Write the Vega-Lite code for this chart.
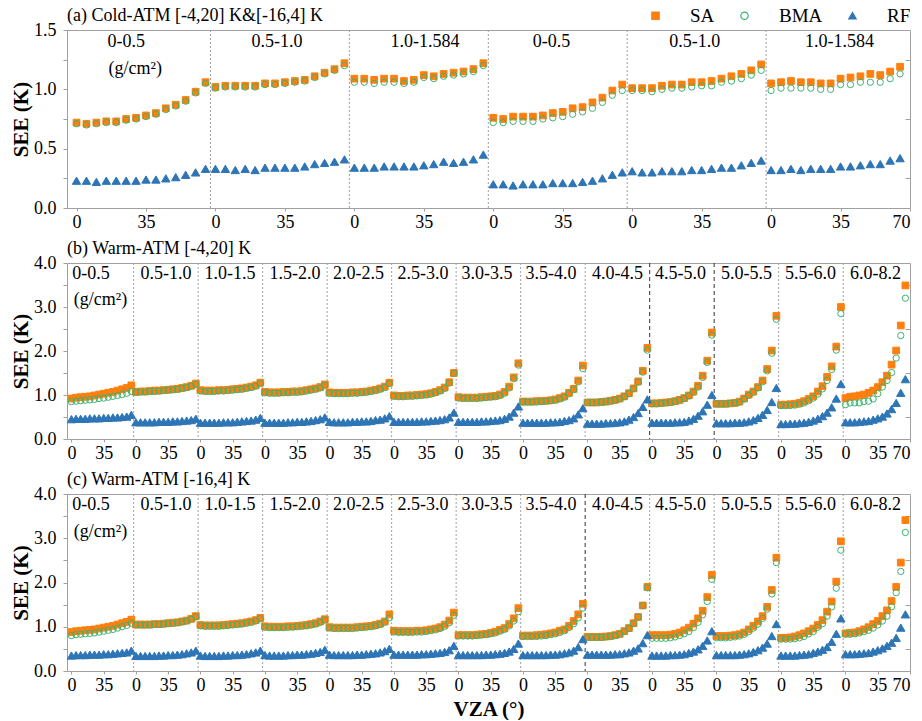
{
"$schema":"https://vega.github.io/schema/vega-lite/v6.json",
"background":"white",
"padding":{"left":10,"top":6,"right":8,"bottom":0},
"spacing":55,
"bounds":"flush",
"config":{
"font":"Liberation Serif",
"view":{"stroke":"#a0a0a0","strokeWidth":1},
"axis":{"labelFont":"Liberation Serif","labelFontSize":18,"labelColor":"#000","titleFont":"Liberation Serif","titleFontSize":21,"titleFontWeight":"bold","titleColor":"#000","domainColor":"#a0a0a0","tickColor":"#a0a0a0","grid":false},
"title":{"font":"Liberation Serif","fontSize":18,"fontWeight":"normal","anchor":"start","color":"#000"},
"legend":{"orient":"none","legendX":579,"legendY":-24,"direction":"horizontal","gridAlign":"each","symbolSize":55,"symbolStrokeWidth":1.2,"labelFont":"Liberation Serif","labelFontSize":19,"labelColor":"#000","labelOffset":25,"columnPadding":20,"padding":0}
},
"datasets":{
"divA":[{"x":67.5},{"x":137.5},{"x":207.5},{"x":277.5},{"x":347.5}],
"divB":[{"x":67.5},{"x":137.5},{"x":207.5},{"x":277.5},{"x":347.5},{"x":417.5},{"x":487.5},{"x":557.5},{"x":767.5},{"x":837.5}],
"divBd":[{"x":627.5},{"x":697.5}],
"divC":[{"x":67.5},{"x":137.5},{"x":207.5},{"x":277.5},{"x":347.5},{"x":417.5},{"x":487.5},{"x":627.5},{"x":697.5},{"x":767.5},{"x":837.5}],
"divCd":[{"x":557.5}],
"labA":[{"x":25,"y":1.4,"t":"0-0.5"},{"x":29.6,"y":1.175,"t":"(g/cm²)"},{"x":101,"y":1.4,"t":"0.5-1.0"},{"x":175.6,"y":1.4,"t":"1.0-1.584"},{"x":239.3,"y":1.4,"t":"0-0.5"},{"x":311.5,"y":1.4,"t":"0.5-1.0"},{"x":384.5,"y":1.4,"t":"1.0-1.584"}],
"labB":[{"x":21.3,"y":3.75,"t":"0-0.5"},{"x":31.6,"y":3.15,"t":"(g/cm²)"},{"x":102.7,"y":3.75,"t":"0.5-1.0"},{"x":172,"y":3.75,"t":"1.0-1.5"},{"x":242.6,"y":3.75,"t":"1.5-2.0"},{"x":311.6,"y":3.75,"t":"2.0-2.5"},{"x":381.5,"y":3.75,"t":"2.5-3.0"},{"x":451,"y":3.75,"t":"3.0-3.5"},{"x":520.5,"y":3.75,"t":"3.5-4.0"},{"x":592.6,"y":3.75,"t":"4.0-4.5"},{"x":661,"y":3.75,"t":"4.5-5.0"},{"x":732.6,"y":3.75,"t":"5.0-5.5"},{"x":802,"y":3.75,"t":"5.5-6.0"},{"x":872.6,"y":3.75,"t":"6.0-8.2"}],
"a":[
{"s":0,"v":0,"SA":0.72,"BMA":0.71,"RF":0.23},{"s":0,"v":5,"SA":0.71,"BMA":0.70,"RF":0.23},{"s":0,"v":10,"SA":0.72,"BMA":0.71,"RF":0.22},{"s":0,"v":15,"SA":0.73,"BMA":0.72,"RF":0.23},{"s":0,"v":20,"SA":0.73,"BMA":0.72,"RF":0.23},{"s":0,"v":25,"SA":0.75,"BMA":0.74,"RF":0.23},{"s":0,"v":30,"SA":0.76,"BMA":0.75,"RF":0.23},{"s":0,"v":35,"SA":0.78,"BMA":0.77,"RF":0.24},{"s":0,"v":40,"SA":0.80,"BMA":0.79,"RF":0.24},{"s":0,"v":45,"SA":0.84,"BMA":0.83,"RF":0.25},{"s":0,"v":50,"SA":0.87,"BMA":0.86,"RF":0.26},{"s":0,"v":55,"SA":0.91,"BMA":0.90,"RF":0.28},{"s":0,"v":60,"SA":0.98,"BMA":0.97,"RF":0.30},{"s":0,"v":65,"SA":1.06,"BMA":1.05,"RF":0.33},
{"s":1,"v":0,"SA":1.02,"BMA":1.01,"RF":0.33},{"s":1,"v":5,"SA":1.03,"BMA":1.02,"RF":0.33},{"s":1,"v":10,"SA":1.03,"BMA":1.02,"RF":0.32},{"s":1,"v":15,"SA":1.03,"BMA":1.02,"RF":0.33},{"s":1,"v":20,"SA":1.03,"BMA":1.02,"RF":0.32},{"s":1,"v":25,"SA":1.05,"BMA":1.04,"RF":0.34},{"s":1,"v":30,"SA":1.05,"BMA":1.04,"RF":0.34},{"s":1,"v":35,"SA":1.06,"BMA":1.05,"RF":0.34},{"s":1,"v":40,"SA":1.07,"BMA":1.06,"RF":0.34},{"s":1,"v":45,"SA":1.08,"BMA":1.07,"RF":0.35},{"s":1,"v":50,"SA":1.11,"BMA":1.10,"RF":0.37},{"s":1,"v":55,"SA":1.14,"BMA":1.13,"RF":0.38},{"s":1,"v":60,"SA":1.17,"BMA":1.16,"RF":0.39},{"s":1,"v":65,"SA":1.22,"BMA":1.20,"RF":0.41},
{"s":2,"v":0,"SA":1.09,"BMA":1.06,"RF":0.34},{"s":2,"v":5,"SA":1.09,"BMA":1.06,"RF":0.34},{"s":2,"v":10,"SA":1.08,"BMA":1.05,"RF":0.34},{"s":2,"v":15,"SA":1.09,"BMA":1.06,"RF":0.35},{"s":2,"v":20,"SA":1.09,"BMA":1.06,"RF":0.35},{"s":2,"v":25,"SA":1.07,"BMA":1.05,"RF":0.35},{"s":2,"v":30,"SA":1.08,"BMA":1.06,"RF":0.35},{"s":2,"v":35,"SA":1.12,"BMA":1.10,"RF":0.36},{"s":2,"v":40,"SA":1.11,"BMA":1.09,"RF":0.37},{"s":2,"v":45,"SA":1.13,"BMA":1.11,"RF":0.39},{"s":2,"v":50,"SA":1.14,"BMA":1.12,"RF":0.38},{"s":2,"v":55,"SA":1.15,"BMA":1.13,"RF":0.39},{"s":2,"v":60,"SA":1.17,"BMA":1.15,"RF":0.41},{"s":2,"v":65,"SA":1.22,"BMA":1.20,"RF":0.45},
{"s":3,"v":0,"SA":0.76,"BMA":0.72,"RF":0.20},{"s":3,"v":5,"SA":0.75,"BMA":0.72,"RF":0.20},{"s":3,"v":10,"SA":0.77,"BMA":0.73,"RF":0.19},{"s":3,"v":15,"SA":0.77,"BMA":0.73,"RF":0.20},{"s":3,"v":20,"SA":0.77,"BMA":0.73,"RF":0.20},{"s":3,"v":25,"SA":0.78,"BMA":0.75,"RF":0.20},{"s":3,"v":30,"SA":0.80,"BMA":0.76,"RF":0.21},{"s":3,"v":35,"SA":0.81,"BMA":0.77,"RF":0.21},{"s":3,"v":40,"SA":0.84,"BMA":0.79,"RF":0.21},{"s":3,"v":45,"SA":0.85,"BMA":0.81,"RF":0.22},{"s":3,"v":50,"SA":0.89,"BMA":0.84,"RF":0.23},{"s":3,"v":55,"SA":0.93,"BMA":0.89,"RF":0.25},{"s":3,"v":60,"SA":0.99,"BMA":0.95,"RF":0.28},{"s":3,"v":65,"SA":1.04,"BMA":0.99,"RF":0.30},
{"s":4,"v":0,"SA":1.01,"BMA":0.99,"RF":0.31},{"s":4,"v":5,"SA":1.01,"BMA":0.99,"RF":0.30},{"s":4,"v":10,"SA":1.01,"BMA":0.98,"RF":0.30},{"s":4,"v":15,"SA":1.03,"BMA":1.00,"RF":0.31},{"s":4,"v":20,"SA":1.04,"BMA":1.01,"RF":0.31},{"s":4,"v":25,"SA":1.04,"BMA":1.01,"RF":0.31},{"s":4,"v":30,"SA":1.06,"BMA":1.02,"RF":0.32},{"s":4,"v":35,"SA":1.06,"BMA":1.03,"RF":0.32},{"s":4,"v":40,"SA":1.07,"BMA":1.03,"RF":0.33},{"s":4,"v":45,"SA":1.09,"BMA":1.06,"RF":0.34},{"s":4,"v":50,"SA":1.11,"BMA":1.07,"RF":0.34},{"s":4,"v":55,"SA":1.13,"BMA":1.09,"RF":0.36},{"s":4,"v":60,"SA":1.16,"BMA":1.12,"RF":0.38},{"s":4,"v":65,"SA":1.21,"BMA":1.16,"RF":0.40},
{"s":5,"v":0,"SA":1.05,"BMA":0.99,"RF":0.32},{"s":5,"v":5,"SA":1.06,"BMA":1.01,"RF":0.32},{"s":5,"v":10,"SA":1.07,"BMA":1.01,"RF":0.33},{"s":5,"v":15,"SA":1.06,"BMA":1.01,"RF":0.32},{"s":5,"v":20,"SA":1.06,"BMA":1.01,"RF":0.33},{"s":5,"v":25,"SA":1.05,"BMA":1.00,"RF":0.33},{"s":5,"v":30,"SA":1.05,"BMA":1.00,"RF":0.33},{"s":5,"v":35,"SA":1.09,"BMA":1.04,"RF":0.35},{"s":5,"v":40,"SA":1.10,"BMA":1.04,"RF":0.35},{"s":5,"v":45,"SA":1.11,"BMA":1.06,"RF":0.36},{"s":5,"v":50,"SA":1.13,"BMA":1.06,"RF":0.37},{"s":5,"v":55,"SA":1.12,"BMA":1.06,"RF":0.37},{"s":5,"v":60,"SA":1.15,"BMA":1.09,"RF":0.40},{"s":5,"v":65,"SA":1.19,"BMA":1.13,"RF":0.42}
],
"b":[
{"s":0,"v":0,"SA":0.92,"BMA":0.85,"RF":0.45},{"s":0,"v":5,"SA":0.94,"BMA":0.86,"RF":0.46},{"s":0,"v":10,"SA":0.95,"BMA":0.87,"RF":0.46},{"s":0,"v":15,"SA":0.96,"BMA":0.88,"RF":0.46},{"s":0,"v":20,"SA":0.97,"BMA":0.89,"RF":0.47},{"s":0,"v":25,"SA":0.99,"BMA":0.90,"RF":0.47},{"s":0,"v":30,"SA":1.01,"BMA":0.92,"RF":0.47},{"s":0,"v":35,"SA":1.03,"BMA":0.93,"RF":0.48},{"s":0,"v":40,"SA":1.05,"BMA":0.95,"RF":0.48},{"s":0,"v":45,"SA":1.07,"BMA":0.97,"RF":0.49},{"s":0,"v":50,"SA":1.10,"BMA":0.99,"RF":0.49},{"s":0,"v":55,"SA":1.13,"BMA":1.01,"RF":0.50},{"s":0,"v":60,"SA":1.16,"BMA":1.04,"RF":0.51},{"s":0,"v":65,"SA":1.22,"BMA":1.08,"RF":0.55},
{"s":1,"v":0,"SA":1.07,"BMA":1.06,"RF":0.38},{"s":1,"v":5,"SA":1.08,"BMA":1.07,"RF":0.38},{"s":1,"v":10,"SA":1.08,"BMA":1.07,"RF":0.38},{"s":1,"v":15,"SA":1.09,"BMA":1.08,"RF":0.38},{"s":1,"v":20,"SA":1.10,"BMA":1.08,"RF":0.38},{"s":1,"v":25,"SA":1.10,"BMA":1.09,"RF":0.39},{"s":1,"v":30,"SA":1.11,"BMA":1.10,"RF":0.39},{"s":1,"v":35,"SA":1.12,"BMA":1.11,"RF":0.39},{"s":1,"v":40,"SA":1.13,"BMA":1.12,"RF":0.40},{"s":1,"v":45,"SA":1.14,"BMA":1.13,"RF":0.40},{"s":1,"v":50,"SA":1.16,"BMA":1.15,"RF":0.41},{"s":1,"v":55,"SA":1.18,"BMA":1.17,"RF":0.42},{"s":1,"v":60,"SA":1.21,"BMA":1.20,"RF":0.43},{"s":1,"v":65,"SA":1.26,"BMA":1.24,"RF":0.46},
{"s":2,"v":0,"SA":1.11,"BMA":1.09,"RF":0.37},{"s":2,"v":5,"SA":1.10,"BMA":1.08,"RF":0.37},{"s":2,"v":10,"SA":1.10,"BMA":1.08,"RF":0.37},{"s":2,"v":15,"SA":1.10,"BMA":1.08,"RF":0.37},{"s":2,"v":20,"SA":1.11,"BMA":1.09,"RF":0.37},{"s":2,"v":25,"SA":1.11,"BMA":1.09,"RF":0.38},{"s":2,"v":30,"SA":1.12,"BMA":1.10,"RF":0.38},{"s":2,"v":35,"SA":1.13,"BMA":1.11,"RF":0.38},{"s":2,"v":40,"SA":1.14,"BMA":1.12,"RF":0.39},{"s":2,"v":45,"SA":1.15,"BMA":1.13,"RF":0.40},{"s":2,"v":50,"SA":1.17,"BMA":1.15,"RF":0.41},{"s":2,"v":55,"SA":1.19,"BMA":1.17,"RF":0.42},{"s":2,"v":60,"SA":1.22,"BMA":1.20,"RF":0.44},{"s":2,"v":65,"SA":1.28,"BMA":1.26,"RF":0.48},
{"s":3,"v":0,"SA":1.07,"BMA":1.05,"RF":0.37},{"s":3,"v":5,"SA":1.06,"BMA":1.04,"RF":0.37},{"s":3,"v":10,"SA":1.06,"BMA":1.04,"RF":0.37},{"s":3,"v":15,"SA":1.06,"BMA":1.04,"RF":0.37},{"s":3,"v":20,"SA":1.07,"BMA":1.05,"RF":0.37},{"s":3,"v":25,"SA":1.07,"BMA":1.05,"RF":0.38},{"s":3,"v":30,"SA":1.08,"BMA":1.06,"RF":0.38},{"s":3,"v":35,"SA":1.08,"BMA":1.06,"RF":0.39},{"s":3,"v":40,"SA":1.09,"BMA":1.07,"RF":0.39},{"s":3,"v":45,"SA":1.11,"BMA":1.09,"RF":0.40},{"s":3,"v":50,"SA":1.13,"BMA":1.11,"RF":0.41},{"s":3,"v":55,"SA":1.15,"BMA":1.13,"RF":0.43},{"s":3,"v":60,"SA":1.18,"BMA":1.16,"RF":0.45},{"s":3,"v":65,"SA":1.24,"BMA":1.22,"RF":0.49},
{"s":4,"v":0,"SA":1.06,"BMA":1.04,"RF":0.39},{"s":4,"v":5,"SA":1.05,"BMA":1.03,"RF":0.38},{"s":4,"v":10,"SA":1.05,"BMA":1.03,"RF":0.38},{"s":4,"v":15,"SA":1.05,"BMA":1.03,"RF":0.38},{"s":4,"v":20,"SA":1.05,"BMA":1.03,"RF":0.38},{"s":4,"v":25,"SA":1.06,"BMA":1.04,"RF":0.39},{"s":4,"v":30,"SA":1.06,"BMA":1.04,"RF":0.39},{"s":4,"v":35,"SA":1.07,"BMA":1.05,"RF":0.40},{"s":4,"v":40,"SA":1.08,"BMA":1.06,"RF":0.40},{"s":4,"v":45,"SA":1.10,"BMA":1.08,"RF":0.41},{"s":4,"v":50,"SA":1.12,"BMA":1.10,"RF":0.43},{"s":4,"v":55,"SA":1.15,"BMA":1.13,"RF":0.44},{"s":4,"v":60,"SA":1.19,"BMA":1.17,"RF":0.47},{"s":4,"v":65,"SA":1.28,"BMA":1.26,"RF":0.52},
{"s":5,"v":0,"SA":0.99,"BMA":0.97,"RF":0.39},{"s":5,"v":5,"SA":0.98,"BMA":0.96,"RF":0.39},{"s":5,"v":10,"SA":0.98,"BMA":0.96,"RF":0.39},{"s":5,"v":15,"SA":0.99,"BMA":0.97,"RF":0.39},{"s":5,"v":20,"SA":0.99,"BMA":0.97,"RF":0.39},{"s":5,"v":25,"SA":1.00,"BMA":0.98,"RF":0.39},{"s":5,"v":30,"SA":1.01,"BMA":0.99,"RF":0.40},{"s":5,"v":35,"SA":1.02,"BMA":1.00,"RF":0.40},{"s":5,"v":40,"SA":1.04,"BMA":1.02,"RF":0.41},{"s":5,"v":45,"SA":1.07,"BMA":1.05,"RF":0.42},{"s":5,"v":50,"SA":1.11,"BMA":1.09,"RF":0.43},{"s":5,"v":55,"SA":1.17,"BMA":1.15,"RF":0.45},{"s":5,"v":60,"SA":1.29,"BMA":1.27,"RF":0.49},{"s":5,"v":65,"SA":1.50,"BMA":1.49,"RF":0.60},
{"s":6,"v":0,"SA":0.95,"BMA":0.93,"RF":0.39},{"s":6,"v":5,"SA":0.94,"BMA":0.92,"RF":0.39},{"s":6,"v":10,"SA":0.94,"BMA":0.92,"RF":0.39},{"s":6,"v":15,"SA":0.94,"BMA":0.92,"RF":0.39},{"s":6,"v":20,"SA":0.94,"BMA":0.92,"RF":0.39},{"s":6,"v":25,"SA":0.95,"BMA":0.93,"RF":0.40},{"s":6,"v":30,"SA":0.96,"BMA":0.94,"RF":0.40},{"s":6,"v":35,"SA":0.97,"BMA":0.95,"RF":0.41},{"s":6,"v":40,"SA":0.98,"BMA":0.96,"RF":0.42},{"s":6,"v":45,"SA":1.01,"BMA":0.99,"RF":0.43},{"s":6,"v":50,"SA":1.07,"BMA":1.04,"RF":0.46},{"s":6,"v":55,"SA":1.19,"BMA":1.16,"RF":0.51},{"s":6,"v":60,"SA":1.40,"BMA":1.37,"RF":0.60},{"s":6,"v":65,"SA":1.72,"BMA":1.68,"RF":0.74},
{"s":7,"v":0,"SA":0.85,"BMA":0.84,"RF":0.37},{"s":7,"v":5,"SA":0.85,"BMA":0.84,"RF":0.37},{"s":7,"v":10,"SA":0.85,"BMA":0.84,"RF":0.37},{"s":7,"v":15,"SA":0.86,"BMA":0.84,"RF":0.37},{"s":7,"v":20,"SA":0.86,"BMA":0.85,"RF":0.37},{"s":7,"v":25,"SA":0.87,"BMA":0.86,"RF":0.37},{"s":7,"v":30,"SA":0.88,"BMA":0.87,"RF":0.38},{"s":7,"v":35,"SA":0.90,"BMA":0.88,"RF":0.38},{"s":7,"v":40,"SA":0.93,"BMA":0.91,"RF":0.39},{"s":7,"v":45,"SA":0.97,"BMA":0.95,"RF":0.41},{"s":7,"v":50,"SA":1.05,"BMA":1.03,"RF":0.43},{"s":7,"v":55,"SA":1.14,"BMA":1.12,"RF":0.47},{"s":7,"v":60,"SA":1.33,"BMA":1.30,"RF":0.56},{"s":7,"v":65,"SA":1.67,"BMA":1.60,"RF":0.70},
{"s":8,"v":0,"SA":0.83,"BMA":0.83,"RF":0.35},{"s":8,"v":5,"SA":0.83,"BMA":0.83,"RF":0.35},{"s":8,"v":10,"SA":0.83,"BMA":0.83,"RF":0.35},{"s":8,"v":15,"SA":0.84,"BMA":0.84,"RF":0.35},{"s":8,"v":20,"SA":0.85,"BMA":0.85,"RF":0.36},{"s":8,"v":25,"SA":0.87,"BMA":0.86,"RF":0.36},{"s":8,"v":30,"SA":0.89,"BMA":0.88,"RF":0.37},{"s":8,"v":35,"SA":0.92,"BMA":0.91,"RF":0.38},{"s":8,"v":40,"SA":0.97,"BMA":0.96,"RF":0.40},{"s":8,"v":45,"SA":1.04,"BMA":1.03,"RF":0.44},{"s":8,"v":50,"SA":1.15,"BMA":1.14,"RF":0.50},{"s":8,"v":55,"SA":1.31,"BMA":1.29,"RF":0.59},{"s":8,"v":60,"SA":1.55,"BMA":1.52,"RF":0.73},{"s":8,"v":65,"SA":2.07,"BMA":2.02,"RF":0.90},
{"s":9,"v":0,"SA":0.81,"BMA":0.80,"RF":0.37},{"s":9,"v":5,"SA":0.81,"BMA":0.80,"RF":0.37},{"s":9,"v":10,"SA":0.82,"BMA":0.81,"RF":0.37},{"s":9,"v":15,"SA":0.83,"BMA":0.82,"RF":0.37},{"s":9,"v":20,"SA":0.84,"BMA":0.83,"RF":0.37},{"s":9,"v":25,"SA":0.86,"BMA":0.85,"RF":0.38},{"s":9,"v":30,"SA":0.89,"BMA":0.88,"RF":0.38},{"s":9,"v":35,"SA":0.93,"BMA":0.92,"RF":0.39},{"s":9,"v":40,"SA":0.99,"BMA":0.98,"RF":0.42},{"s":9,"v":45,"SA":1.08,"BMA":1.06,"RF":0.46},{"s":9,"v":50,"SA":1.21,"BMA":1.18,"RF":0.53},{"s":9,"v":55,"SA":1.44,"BMA":1.40,"RF":0.63},{"s":9,"v":60,"SA":1.78,"BMA":1.74,"RF":0.78},{"s":9,"v":65,"SA":2.42,"BMA":2.36,"RF":1.00},
{"s":10,"v":0,"SA":0.80,"BMA":0.80,"RF":0.36},{"s":10,"v":5,"SA":0.80,"BMA":0.80,"RF":0.36},{"s":10,"v":10,"SA":0.80,"BMA":0.80,"RF":0.36},{"s":10,"v":15,"SA":0.81,"BMA":0.81,"RF":0.36},{"s":10,"v":20,"SA":0.82,"BMA":0.82,"RF":0.37},{"s":10,"v":25,"SA":0.85,"BMA":0.84,"RF":0.37},{"s":10,"v":30,"SA":0.92,"BMA":0.91,"RF":0.38},{"s":10,"v":35,"SA":1.01,"BMA":0.99,"RF":0.40},{"s":10,"v":40,"SA":1.08,"BMA":1.06,"RF":0.43},{"s":10,"v":45,"SA":1.18,"BMA":1.16,"RF":0.48},{"s":10,"v":50,"SA":1.33,"BMA":1.30,"RF":0.55},{"s":10,"v":55,"SA":1.59,"BMA":1.55,"RF":0.66},{"s":10,"v":60,"SA":2.01,"BMA":1.95,"RF":0.84},{"s":10,"v":65,"SA":2.80,"BMA":2.72,"RF":1.16},
{"s":11,"v":0,"SA":0.78,"BMA":0.76,"RF":0.34},{"s":11,"v":5,"SA":0.78,"BMA":0.76,"RF":0.34},{"s":11,"v":10,"SA":0.79,"BMA":0.76,"RF":0.35},{"s":11,"v":15,"SA":0.80,"BMA":0.77,"RF":0.35},{"s":11,"v":20,"SA":0.82,"BMA":0.79,"RF":0.36},{"s":11,"v":25,"SA":0.86,"BMA":0.82,"RF":0.37},{"s":11,"v":30,"SA":0.91,"BMA":0.87,"RF":0.39},{"s":11,"v":35,"SA":0.97,"BMA":0.93,"RF":0.42},{"s":11,"v":40,"SA":1.08,"BMA":1.02,"RF":0.46},{"s":11,"v":45,"SA":1.20,"BMA":1.14,"RF":0.52},{"s":11,"v":50,"SA":1.41,"BMA":1.33,"RF":0.60},{"s":11,"v":55,"SA":1.65,"BMA":1.58,"RF":0.72},{"s":11,"v":60,"SA":2.10,"BMA":2.02,"RF":0.92},{"s":11,"v":65,"SA":3.00,"BMA":2.85,"RF":1.25},
{"s":12,"v":0,"SA":0.93,"BMA":0.78,"RF":0.38},{"s":12,"v":5,"SA":0.96,"BMA":0.82,"RF":0.38},{"s":12,"v":10,"SA":0.97,"BMA":0.82,"RF":0.38},{"s":12,"v":15,"SA":0.99,"BMA":0.82,"RF":0.39},{"s":12,"v":20,"SA":1.01,"BMA":0.85,"RF":0.40},{"s":12,"v":25,"SA":1.05,"BMA":0.86,"RF":0.41},{"s":12,"v":30,"SA":1.10,"BMA":0.91,"RF":0.44},{"s":12,"v":35,"SA":1.18,"BMA":1.03,"RF":0.47},{"s":12,"v":40,"SA":1.29,"BMA":1.18,"RF":0.51},{"s":12,"v":45,"SA":1.44,"BMA":1.33,"RF":0.58},{"s":12,"v":50,"SA":1.69,"BMA":1.51,"RF":0.68},{"s":12,"v":55,"SA":2.01,"BMA":1.84,"RF":0.82},{"s":12,"v":60,"SA":2.58,"BMA":2.35,"RF":1.05},{"s":12,"v":65,"SA":3.49,"BMA":3.20,"RF":1.36}
],
"c":[
{"s":0,"v":0,"SA":0.88,"BMA":0.80,"RF":0.35},{"s":0,"v":5,"SA":0.90,"BMA":0.82,"RF":0.36},{"s":0,"v":10,"SA":0.91,"BMA":0.83,"RF":0.36},{"s":0,"v":15,"SA":0.92,"BMA":0.84,"RF":0.36},{"s":0,"v":20,"SA":0.93,"BMA":0.85,"RF":0.37},{"s":0,"v":25,"SA":0.94,"BMA":0.86,"RF":0.37},{"s":0,"v":30,"SA":0.96,"BMA":0.88,"RF":0.37},{"s":0,"v":35,"SA":0.98,"BMA":0.90,"RF":0.38},{"s":0,"v":40,"SA":1.00,"BMA":0.92,"RF":0.38},{"s":0,"v":45,"SA":1.02,"BMA":0.94,"RF":0.39},{"s":0,"v":50,"SA":1.05,"BMA":0.97,"RF":0.40},{"s":0,"v":55,"SA":1.08,"BMA":1.00,"RF":0.41},{"s":0,"v":60,"SA":1.11,"BMA":1.03,"RF":0.42},{"s":0,"v":65,"SA":1.16,"BMA":1.08,"RF":0.46},
{"s":1,"v":0,"SA":1.05,"BMA":1.04,"RF":0.34},{"s":1,"v":5,"SA":1.05,"BMA":1.04,"RF":0.34},{"s":1,"v":10,"SA":1.05,"BMA":1.04,"RF":0.34},{"s":1,"v":15,"SA":1.05,"BMA":1.04,"RF":0.34},{"s":1,"v":20,"SA":1.06,"BMA":1.05,"RF":0.34},{"s":1,"v":25,"SA":1.06,"BMA":1.05,"RF":0.35},{"s":1,"v":30,"SA":1.07,"BMA":1.06,"RF":0.35},{"s":1,"v":35,"SA":1.08,"BMA":1.07,"RF":0.36},{"s":1,"v":40,"SA":1.09,"BMA":1.08,"RF":0.36},{"s":1,"v":45,"SA":1.10,"BMA":1.09,"RF":0.37},{"s":1,"v":50,"SA":1.12,"BMA":1.11,"RF":0.38},{"s":1,"v":55,"SA":1.14,"BMA":1.13,"RF":0.40},{"s":1,"v":60,"SA":1.18,"BMA":1.17,"RF":0.42},{"s":1,"v":65,"SA":1.24,"BMA":1.22,"RF":0.46},
{"s":2,"v":0,"SA":1.04,"BMA":1.02,"RF":0.35},{"s":2,"v":5,"SA":1.03,"BMA":1.01,"RF":0.34},{"s":2,"v":10,"SA":1.03,"BMA":1.01,"RF":0.34},{"s":2,"v":15,"SA":1.03,"BMA":1.01,"RF":0.34},{"s":2,"v":20,"SA":1.03,"BMA":1.01,"RF":0.34},{"s":2,"v":25,"SA":1.04,"BMA":1.02,"RF":0.35},{"s":2,"v":30,"SA":1.05,"BMA":1.03,"RF":0.35},{"s":2,"v":35,"SA":1.06,"BMA":1.04,"RF":0.36},{"s":2,"v":40,"SA":1.07,"BMA":1.05,"RF":0.36},{"s":2,"v":45,"SA":1.08,"BMA":1.06,"RF":0.37},{"s":2,"v":50,"SA":1.10,"BMA":1.08,"RF":0.38},{"s":2,"v":55,"SA":1.12,"BMA":1.10,"RF":0.40},{"s":2,"v":60,"SA":1.15,"BMA":1.13,"RF":0.42},{"s":2,"v":65,"SA":1.20,"BMA":1.18,"RF":0.46},
{"s":3,"v":0,"SA":1.01,"BMA":0.99,"RF":0.36},{"s":3,"v":5,"SA":1.00,"BMA":0.98,"RF":0.35},{"s":3,"v":10,"SA":1.00,"BMA":0.98,"RF":0.35},{"s":3,"v":15,"SA":1.00,"BMA":0.98,"RF":0.35},{"s":3,"v":20,"SA":1.00,"BMA":0.98,"RF":0.35},{"s":3,"v":25,"SA":1.01,"BMA":0.99,"RF":0.36},{"s":3,"v":30,"SA":1.01,"BMA":0.99,"RF":0.36},{"s":3,"v":35,"SA":1.02,"BMA":1.00,"RF":0.37},{"s":3,"v":40,"SA":1.03,"BMA":1.01,"RF":0.37},{"s":3,"v":45,"SA":1.04,"BMA":1.02,"RF":0.38},{"s":3,"v":50,"SA":1.06,"BMA":1.04,"RF":0.39},{"s":3,"v":55,"SA":1.08,"BMA":1.06,"RF":0.41},{"s":3,"v":60,"SA":1.12,"BMA":1.10,"RF":0.43},{"s":3,"v":65,"SA":1.17,"BMA":1.15,"RF":0.48},
{"s":4,"v":0,"SA":0.99,"BMA":0.97,"RF":0.37},{"s":4,"v":5,"SA":0.98,"BMA":0.96,"RF":0.36},{"s":4,"v":10,"SA":0.98,"BMA":0.96,"RF":0.36},{"s":4,"v":15,"SA":0.98,"BMA":0.96,"RF":0.36},{"s":4,"v":20,"SA":0.98,"BMA":0.96,"RF":0.36},{"s":4,"v":25,"SA":0.98,"BMA":0.96,"RF":0.36},{"s":4,"v":30,"SA":0.99,"BMA":0.97,"RF":0.37},{"s":4,"v":35,"SA":1.00,"BMA":0.98,"RF":0.37},{"s":4,"v":40,"SA":1.01,"BMA":0.99,"RF":0.38},{"s":4,"v":45,"SA":1.02,"BMA":1.00,"RF":0.39},{"s":4,"v":50,"SA":1.04,"BMA":1.02,"RF":0.40},{"s":4,"v":55,"SA":1.07,"BMA":1.05,"RF":0.42},{"s":4,"v":60,"SA":1.12,"BMA":1.10,"RF":0.45},{"s":4,"v":65,"SA":1.28,"BMA":1.20,"RF":0.50},
{"s":5,"v":0,"SA":0.91,"BMA":0.88,"RF":0.37},{"s":5,"v":5,"SA":0.90,"BMA":0.87,"RF":0.37},{"s":5,"v":10,"SA":0.90,"BMA":0.87,"RF":0.37},{"s":5,"v":15,"SA":0.90,"BMA":0.87,"RF":0.37},{"s":5,"v":20,"SA":0.90,"BMA":0.87,"RF":0.37},{"s":5,"v":25,"SA":0.91,"BMA":0.88,"RF":0.37},{"s":5,"v":30,"SA":0.91,"BMA":0.88,"RF":0.38},{"s":5,"v":35,"SA":0.92,"BMA":0.89,"RF":0.38},{"s":5,"v":40,"SA":0.94,"BMA":0.91,"RF":0.39},{"s":5,"v":45,"SA":0.96,"BMA":0.93,"RF":0.40},{"s":5,"v":50,"SA":0.99,"BMA":0.96,"RF":0.41},{"s":5,"v":55,"SA":1.05,"BMA":1.01,"RF":0.43},{"s":5,"v":60,"SA":1.14,"BMA":1.09,"RF":0.47},{"s":5,"v":65,"SA":1.32,"BMA":1.26,"RF":0.57},
{"s":6,"v":0,"SA":0.81,"BMA":0.79,"RF":0.36},{"s":6,"v":5,"SA":0.81,"BMA":0.79,"RF":0.36},{"s":6,"v":10,"SA":0.81,"BMA":0.79,"RF":0.36},{"s":6,"v":15,"SA":0.81,"BMA":0.79,"RF":0.36},{"s":6,"v":20,"SA":0.82,"BMA":0.80,"RF":0.36},{"s":6,"v":25,"SA":0.83,"BMA":0.81,"RF":0.36},{"s":6,"v":30,"SA":0.84,"BMA":0.82,"RF":0.37},{"s":6,"v":35,"SA":0.86,"BMA":0.84,"RF":0.37},{"s":6,"v":40,"SA":0.89,"BMA":0.86,"RF":0.38},{"s":6,"v":45,"SA":0.93,"BMA":0.90,"RF":0.39},{"s":6,"v":50,"SA":0.97,"BMA":0.94,"RF":0.41},{"s":6,"v":55,"SA":1.06,"BMA":1.02,"RF":0.44},{"s":6,"v":60,"SA":1.19,"BMA":1.13,"RF":0.50},{"s":6,"v":65,"SA":1.42,"BMA":1.34,"RF":0.62},
{"s":7,"v":0,"SA":0.80,"BMA":0.78,"RF":0.36},{"s":7,"v":5,"SA":0.80,"BMA":0.78,"RF":0.36},{"s":7,"v":10,"SA":0.80,"BMA":0.78,"RF":0.36},{"s":7,"v":15,"SA":0.81,"BMA":0.78,"RF":0.36},{"s":7,"v":20,"SA":0.82,"BMA":0.79,"RF":0.36},{"s":7,"v":25,"SA":0.83,"BMA":0.80,"RF":0.36},{"s":7,"v":30,"SA":0.85,"BMA":0.82,"RF":0.37},{"s":7,"v":35,"SA":0.87,"BMA":0.84,"RF":0.37},{"s":7,"v":40,"SA":0.91,"BMA":0.87,"RF":0.38},{"s":7,"v":45,"SA":0.94,"BMA":0.91,"RF":0.40},{"s":7,"v":50,"SA":1.02,"BMA":0.98,"RF":0.42},{"s":7,"v":55,"SA":1.13,"BMA":1.07,"RF":0.46},{"s":7,"v":60,"SA":1.28,"BMA":1.20,"RF":0.54},{"s":7,"v":65,"SA":1.52,"BMA":1.42,"RF":0.72},
{"s":8,"v":0,"SA":0.77,"BMA":0.76,"RF":0.37},{"s":8,"v":5,"SA":0.77,"BMA":0.76,"RF":0.37},{"s":8,"v":10,"SA":0.77,"BMA":0.76,"RF":0.37},{"s":8,"v":15,"SA":0.77,"BMA":0.76,"RF":0.37},{"s":8,"v":20,"SA":0.78,"BMA":0.77,"RF":0.37},{"s":8,"v":25,"SA":0.79,"BMA":0.78,"RF":0.37},{"s":8,"v":30,"SA":0.81,"BMA":0.80,"RF":0.38},{"s":8,"v":35,"SA":0.84,"BMA":0.83,"RF":0.38},{"s":8,"v":40,"SA":0.90,"BMA":0.89,"RF":0.40},{"s":8,"v":45,"SA":0.97,"BMA":0.96,"RF":0.42},{"s":8,"v":50,"SA":1.08,"BMA":1.07,"RF":0.46},{"s":8,"v":55,"SA":1.22,"BMA":1.22,"RF":0.51},{"s":8,"v":60,"SA":1.48,"BMA":1.48,"RF":0.63},{"s":8,"v":65,"SA":1.90,"BMA":1.88,"RF":0.81},
{"s":9,"v":0,"SA":0.81,"BMA":0.74,"RF":0.35},{"s":9,"v":5,"SA":0.81,"BMA":0.74,"RF":0.35},{"s":9,"v":10,"SA":0.81,"BMA":0.74,"RF":0.35},{"s":9,"v":15,"SA":0.81,"BMA":0.74,"RF":0.35},{"s":9,"v":20,"SA":0.82,"BMA":0.75,"RF":0.36},{"s":9,"v":25,"SA":0.84,"BMA":0.77,"RF":0.36},{"s":9,"v":30,"SA":0.87,"BMA":0.80,"RF":0.37},{"s":9,"v":35,"SA":0.92,"BMA":0.84,"RF":0.38},{"s":9,"v":40,"SA":0.98,"BMA":0.89,"RF":0.41},{"s":9,"v":45,"SA":1.07,"BMA":0.98,"RF":0.44},{"s":9,"v":50,"SA":1.19,"BMA":1.10,"RF":0.49},{"s":9,"v":55,"SA":1.36,"BMA":1.27,"RF":0.57},{"s":9,"v":60,"SA":1.67,"BMA":1.57,"RF":0.69},{"s":9,"v":65,"SA":2.17,"BMA":2.07,"RF":0.90},
{"s":10,"v":0,"SA":0.79,"BMA":0.75,"RF":0.36},{"s":10,"v":5,"SA":0.79,"BMA":0.75,"RF":0.36},{"s":10,"v":10,"SA":0.79,"BMA":0.75,"RF":0.36},{"s":10,"v":15,"SA":0.80,"BMA":0.76,"RF":0.36},{"s":10,"v":20,"SA":0.81,"BMA":0.77,"RF":0.36},{"s":10,"v":25,"SA":0.83,"BMA":0.79,"RF":0.37},{"s":10,"v":30,"SA":0.87,"BMA":0.83,"RF":0.38},{"s":10,"v":35,"SA":0.94,"BMA":0.89,"RF":0.40},{"s":10,"v":40,"SA":1.02,"BMA":0.97,"RF":0.43},{"s":10,"v":45,"SA":1.12,"BMA":1.06,"RF":0.47},{"s":10,"v":50,"SA":1.24,"BMA":1.19,"RF":0.53},{"s":10,"v":55,"SA":1.45,"BMA":1.40,"RF":0.62},{"s":10,"v":60,"SA":1.83,"BMA":1.74,"RF":0.79},{"s":10,"v":65,"SA":2.56,"BMA":2.45,"RF":1.06},
{"s":11,"v":0,"SA":0.75,"BMA":0.72,"RF":0.35},{"s":11,"v":5,"SA":0.75,"BMA":0.72,"RF":0.35},{"s":11,"v":10,"SA":0.76,"BMA":0.72,"RF":0.35},{"s":11,"v":15,"SA":0.78,"BMA":0.73,"RF":0.35},{"s":11,"v":20,"SA":0.81,"BMA":0.75,"RF":0.36},{"s":11,"v":25,"SA":0.85,"BMA":0.78,"RF":0.37},{"s":11,"v":30,"SA":0.90,"BMA":0.84,"RF":0.38},{"s":11,"v":35,"SA":0.96,"BMA":0.89,"RF":0.41},{"s":11,"v":40,"SA":1.04,"BMA":0.99,"RF":0.44},{"s":11,"v":45,"SA":1.15,"BMA":1.07,"RF":0.48},{"s":11,"v":50,"SA":1.34,"BMA":1.24,"RF":0.54},{"s":11,"v":55,"SA":1.57,"BMA":1.45,"RF":0.66},{"s":11,"v":60,"SA":2.02,"BMA":1.87,"RF":0.84},{"s":11,"v":65,"SA":2.93,"BMA":2.73,"RF":1.19},
{"s":12,"v":0,"SA":0.85,"BMA":0.83,"RF":0.38},{"s":12,"v":5,"SA":0.86,"BMA":0.83,"RF":0.38},{"s":12,"v":10,"SA":0.87,"BMA":0.84,"RF":0.38},{"s":12,"v":15,"SA":0.90,"BMA":0.86,"RF":0.39},{"s":12,"v":20,"SA":0.94,"BMA":0.89,"RF":0.40},{"s":12,"v":25,"SA":0.99,"BMA":0.92,"RF":0.41},{"s":12,"v":30,"SA":1.06,"BMA":0.97,"RF":0.44},{"s":12,"v":35,"SA":1.13,"BMA":1.04,"RF":0.47},{"s":12,"v":40,"SA":1.24,"BMA":1.13,"RF":0.51},{"s":12,"v":45,"SA":1.37,"BMA":1.24,"RF":0.57},{"s":12,"v":50,"SA":1.58,"BMA":1.45,"RF":0.64},{"s":12,"v":55,"SA":1.90,"BMA":1.77,"RF":0.75},{"s":12,"v":60,"SA":2.45,"BMA":2.25,"RF":0.98},{"s":12,"v":65,"SA":3.41,"BMA":3.13,"RF":1.28}
]
},
"vconcat":[
{"width":843,"height":178,
"title":{"text":"(a) Cold-ATM [-4,20] K&[-16,4] K","font":"Liberation Serif","fontSize":18,"fontWeight":"normal","anchor":"start","frame":"group","offset":-4},
"resolve":{"axis":{"y":"independent"}},
"encoding":{"x":{"field":"x","type":"quantitative","scale":{"domain":[-4.8,420],"nice":false,"zero":false},"axis":{"values":[0,35,70,105,140,175,210,245,280,315,350,385,420],"labelExpr":"datum.value == 420 ? '70' : (datum.value % 70 == 0 ? '0' : '35')","title":null,"tickSize":3,"labelPadding":2,"domain":false,"labelFont":"Liberation Serif","labelFontSize":18,"labelColor":"#000","tickColor":"#a0a0a0"}}},
"layer":[
{"data":{"name":"divA"},"mark":{"type":"rule","color":"#a0a0a0","strokeDash":[2,2],"strokeWidth":1}},
{"data":{"name":"a"},"transform":[{"fold":["SA","BMA","RF"],"as":["m","see"]},{"calculate":"datum.s*70+datum.v","as":"x"},{"filter":"datum.m=='SA'"}],
"mark":{"type":"point","filled":true,"size":45,"strokeWidth":1,"opacity":1},
"encoding":{
"y":{"field":"see","type":"quantitative","scale":{"domain":[0,1.5],"nice":false,"zero":false},"axis":{"values":[0,0.25,0.5,0.75,1,1.25,1.5],"labelExpr":"datum.value % 0.5 == 0 ? format(datum.value, '.1f') : ''","title":"SEE (K)","tickSize":4,"labelPadding":7,"domain":false,"titlePadding":2,"labelFont":"Liberation Serif","labelFontSize":18,"labelColor":"#000","titleFont":"Liberation Serif","titleFontSize":21,"titleFontWeight":"bold","titleColor":"#000","tickColor":"#a0a0a0"}},
"fill":{"field":"m","type":"nominal","scale":{"domain":["SA","BMA","RF"],"range":["#ff7f0e","transparent","#2e75b6"]},"legend":{"title":null}},
"stroke":{"field":"m","type":"nominal","scale":{"domain":["SA","BMA","RF"],"range":["#ff7f0e","#3cb371","#2e75b6"]},"legend":{"title":null}},
"shape":{"field":"m","type":"nominal","scale":{"domain":["SA","BMA","RF"],"range":["square","circle","triangle-up"]},"legend":{"title":null}}
}},
{"data":{"name":"a"},"transform":[{"fold":["SA","BMA","RF"],"as":["m","see"]},{"calculate":"datum.s*70+datum.v","as":"x"},{"filter":"datum.m=='BMA'"}],
"mark":{"type":"point","filled":true,"size":40,"strokeWidth":1,"opacity":1},
"encoding":{
"y":{"field":"see","type":"quantitative","scale":{"domain":[0,1.5],"nice":false,"zero":false},"axis":{"orient":"right","values":[0.25,0.75,1.25],"labels":false,"title":null,"tickSize":-5,"domain":false,"tickColor":"#a0a0a0"}},
"fill":{"field":"m","type":"nominal","scale":{"domain":["SA","BMA","RF"],"range":["#ff7f0e","transparent","#2e75b6"]},"legend":{"title":null}},
"stroke":{"field":"m","type":"nominal","scale":{"domain":["SA","BMA","RF"],"range":["#ff7f0e","#3cb371","#2e75b6"]},"legend":{"title":null}},
"shape":{"field":"m","type":"nominal","scale":{"domain":["SA","BMA","RF"],"range":["square","circle","triangle-up"]},"legend":{"title":null}}
}},
{"data":{"name":"a"},"transform":[{"fold":["SA","BMA","RF"],"as":["m","see"]},{"calculate":"datum.s*70+datum.v","as":"x"},{"filter":"datum.m=='RF'"}],
"mark":{"type":"point","filled":true,"size":70,"strokeWidth":1,"opacity":1},
"encoding":{
"y":{"field":"see","type":"quantitative","scale":{"domain":[0,1.5],"nice":false,"zero":false},"axis":null},
"fill":{"field":"m","type":"nominal","scale":{"domain":["SA","BMA","RF"],"range":["#ff7f0e","transparent","#2e75b6"]},"legend":{"title":null}},
"stroke":{"field":"m","type":"nominal","scale":{"domain":["SA","BMA","RF"],"range":["#ff7f0e","#3cb371","#2e75b6"]},"legend":{"title":null}},
"shape":{"field":"m","type":"nominal","scale":{"domain":["SA","BMA","RF"],"range":["square","circle","triangle-up"]},"legend":{"title":null}}
}},
{"data":{"name":"labA"},"mark":{"type":"text","font":"Liberation Serif","fontSize":18,"color":"#000","baseline":"middle","align":"center"},
"encoding":{"y":{"field":"y","type":"quantitative","scale":{"domain":[0,1.5],"nice":false,"zero":false},"axis":null},"text":{"field":"t"}}}
]},
{"width":843,"height":176,
"title":{"text":"(b) Warm-ATM [-4,20] K","font":"Liberation Serif","fontSize":18,"fontWeight":"normal","anchor":"start","frame":"group","offset":-4},
"resolve":{"axis":{"y":"independent"}},
"encoding":{"x":{"field":"x","type":"quantitative","scale":{"domain":[-4.8,910],"nice":false,"zero":false},"axis":{"values":[0,35,70,105,140,175,210,245,280,315,350,385,420,455,490,525,560,595,630,665,700,735,770,805,840,875,910],"labelExpr":"datum.value == 910 ? '70' : (datum.value % 70 == 0 ? '0' : '35')","title":null,"tickSize":3,"labelPadding":2,"domain":false,"labelFont":"Liberation Serif","labelFontSize":18,"labelColor":"#000","tickColor":"#a0a0a0"}}},
"layer":[
{"data":{"name":"divB"},"mark":{"type":"rule","color":"#a0a0a0","strokeDash":[2,2],"strokeWidth":1}},
{"data":{"name":"divBd"},"mark":{"type":"rule","color":"#333333","strokeDash":[4,3],"strokeWidth":1}},
{"data":{"name":"b"},"transform":[{"fold":["SA","BMA","RF"],"as":["m","see"]},{"calculate":"datum.s*70+datum.v","as":"x"},{"filter":"datum.m=='SA'"}],
"mark":{"type":"point","filled":true,"size":45,"strokeWidth":1,"opacity":1},
"encoding":{
"y":{"field":"see","type":"quantitative","scale":{"domain":[0,4],"nice":false,"zero":false},"axis":{"values":[0,0.5,1,1.5,2,2.5,3,3.5,4],"labelExpr":"datum.value % 1 == 0 ? format(datum.value, '.1f') : ''","title":"SEE (K)","tickSize":4,"labelPadding":7,"domain":false,"titlePadding":2,"labelFont":"Liberation Serif","labelFontSize":18,"labelColor":"#000","titleFont":"Liberation Serif","titleFontSize":21,"titleFontWeight":"bold","titleColor":"#000","tickColor":"#a0a0a0"}},
"fill":{"field":"m","type":"nominal","scale":{"domain":["SA","BMA","RF"],"range":["#ff7f0e","transparent","#2e75b6"]},"legend":{"title":null}},
"stroke":{"field":"m","type":"nominal","scale":{"domain":["SA","BMA","RF"],"range":["#ff7f0e","#3cb371","#2e75b6"]},"legend":{"title":null}},
"shape":{"field":"m","type":"nominal","scale":{"domain":["SA","BMA","RF"],"range":["square","circle","triangle-up"]},"legend":{"title":null}}
}},
{"data":{"name":"b"},"transform":[{"fold":["SA","BMA","RF"],"as":["m","see"]},{"calculate":"datum.s*70+datum.v","as":"x"},{"filter":"datum.m=='BMA'"}],
"mark":{"type":"point","filled":true,"size":40,"strokeWidth":1,"opacity":1},
"encoding":{
"y":{"field":"see","type":"quantitative","scale":{"domain":[0,4],"nice":false,"zero":false},"axis":{"orient":"right","values":[0.5,1.5,2.5,3.5],"labels":false,"title":null,"tickSize":-5,"domain":false,"tickColor":"#a0a0a0"}},
"fill":{"field":"m","type":"nominal","scale":{"domain":["SA","BMA","RF"],"range":["#ff7f0e","transparent","#2e75b6"]},"legend":{"title":null}},
"stroke":{"field":"m","type":"nominal","scale":{"domain":["SA","BMA","RF"],"range":["#ff7f0e","#3cb371","#2e75b6"]},"legend":{"title":null}},
"shape":{"field":"m","type":"nominal","scale":{"domain":["SA","BMA","RF"],"range":["square","circle","triangle-up"]},"legend":{"title":null}}
}},
{"data":{"name":"b"},"transform":[{"fold":["SA","BMA","RF"],"as":["m","see"]},{"calculate":"datum.s*70+datum.v","as":"x"},{"filter":"datum.m=='RF'"}],
"mark":{"type":"point","filled":true,"size":70,"strokeWidth":1,"opacity":1},
"encoding":{
"y":{"field":"see","type":"quantitative","scale":{"domain":[0,4],"nice":false,"zero":false},"axis":null},
"fill":{"field":"m","type":"nominal","scale":{"domain":["SA","BMA","RF"],"range":["#ff7f0e","transparent","#2e75b6"]},"legend":{"title":null}},
"stroke":{"field":"m","type":"nominal","scale":{"domain":["SA","BMA","RF"],"range":["#ff7f0e","#3cb371","#2e75b6"]},"legend":{"title":null}},
"shape":{"field":"m","type":"nominal","scale":{"domain":["SA","BMA","RF"],"range":["square","circle","triangle-up"]},"legend":{"title":null}}
}},
{"data":{"name":"labB"},"mark":{"type":"text","font":"Liberation Serif","fontSize":18,"color":"#000","baseline":"middle","align":"center"},
"encoding":{"y":{"field":"y","type":"quantitative","scale":{"domain":[0,4],"nice":false,"zero":false},"axis":null},"text":{"field":"t"}}}
]},
{"width":843,"height":177,
"title":{"text":"(c) Warm-ATM [-16,4] K","font":"Liberation Serif","fontSize":18,"fontWeight":"normal","anchor":"start","frame":"group","offset":-4},
"resolve":{"axis":{"y":"independent"}},
"encoding":{"x":{"field":"x","type":"quantitative","scale":{"domain":[-4.8,910],"nice":false,"zero":false},"axis":{"values":[0,35,70,105,140,175,210,245,280,315,350,385,420,455,490,525,560,595,630,665,700,735,770,805,840,875,910],"labelExpr":"datum.value == 910 ? '70' : (datum.value % 70 == 0 ? '0' : '35')","title":"VZA (°)","titlePadding":4,"tickSize":3,"labelPadding":2,"domain":false,"labelFont":"Liberation Serif","labelFontSize":18,"labelColor":"#000","titleFont":"Liberation Serif","titleFontSize":21,"titleFontWeight":"bold","titleColor":"#000","tickColor":"#a0a0a0"}}},
"layer":[
{"data":{"name":"divC"},"mark":{"type":"rule","color":"#a0a0a0","strokeDash":[2,2],"strokeWidth":1}},
{"data":{"name":"divCd"},"mark":{"type":"rule","color":"#333333","strokeDash":[4,3],"strokeWidth":1}},
{"data":{"name":"c"},"transform":[{"fold":["SA","BMA","RF"],"as":["m","see"]},{"calculate":"datum.s*70+datum.v","as":"x"},{"filter":"datum.m=='SA'"}],
"mark":{"type":"point","filled":true,"size":45,"strokeWidth":1,"opacity":1},
"encoding":{
"y":{"field":"see","type":"quantitative","scale":{"domain":[0,4],"nice":false,"zero":false},"axis":{"values":[0,0.5,1,1.5,2,2.5,3,3.5,4],"labelExpr":"datum.value % 1 == 0 ? format(datum.value, '.1f') : ''","title":"SEE (K)","tickSize":4,"labelPadding":7,"domain":false,"titlePadding":2,"labelFont":"Liberation Serif","labelFontSize":18,"labelColor":"#000","titleFont":"Liberation Serif","titleFontSize":21,"titleFontWeight":"bold","titleColor":"#000","tickColor":"#a0a0a0"}},
"fill":{"field":"m","type":"nominal","scale":{"domain":["SA","BMA","RF"],"range":["#ff7f0e","transparent","#2e75b6"]},"legend":{"title":null}},
"stroke":{"field":"m","type":"nominal","scale":{"domain":["SA","BMA","RF"],"range":["#ff7f0e","#3cb371","#2e75b6"]},"legend":{"title":null}},
"shape":{"field":"m","type":"nominal","scale":{"domain":["SA","BMA","RF"],"range":["square","circle","triangle-up"]},"legend":{"title":null}}
}},
{"data":{"name":"c"},"transform":[{"fold":["SA","BMA","RF"],"as":["m","see"]},{"calculate":"datum.s*70+datum.v","as":"x"},{"filter":"datum.m=='BMA'"}],
"mark":{"type":"point","filled":true,"size":40,"strokeWidth":1,"opacity":1},
"encoding":{
"y":{"field":"see","type":"quantitative","scale":{"domain":[0,4],"nice":false,"zero":false},"axis":{"orient":"right","values":[0.5,1.5,2.5,3.5],"labels":false,"title":null,"tickSize":-5,"domain":false,"tickColor":"#a0a0a0"}},
"fill":{"field":"m","type":"nominal","scale":{"domain":["SA","BMA","RF"],"range":["#ff7f0e","transparent","#2e75b6"]},"legend":{"title":null}},
"stroke":{"field":"m","type":"nominal","scale":{"domain":["SA","BMA","RF"],"range":["#ff7f0e","#3cb371","#2e75b6"]},"legend":{"title":null}},
"shape":{"field":"m","type":"nominal","scale":{"domain":["SA","BMA","RF"],"range":["square","circle","triangle-up"]},"legend":{"title":null}}
}},
{"data":{"name":"c"},"transform":[{"fold":["SA","BMA","RF"],"as":["m","see"]},{"calculate":"datum.s*70+datum.v","as":"x"},{"filter":"datum.m=='RF'"}],
"mark":{"type":"point","filled":true,"size":70,"strokeWidth":1,"opacity":1},
"encoding":{
"y":{"field":"see","type":"quantitative","scale":{"domain":[0,4],"nice":false,"zero":false},"axis":null},
"fill":{"field":"m","type":"nominal","scale":{"domain":["SA","BMA","RF"],"range":["#ff7f0e","transparent","#2e75b6"]},"legend":{"title":null}},
"stroke":{"field":"m","type":"nominal","scale":{"domain":["SA","BMA","RF"],"range":["#ff7f0e","#3cb371","#2e75b6"]},"legend":{"title":null}},
"shape":{"field":"m","type":"nominal","scale":{"domain":["SA","BMA","RF"],"range":["square","circle","triangle-up"]},"legend":{"title":null}}
}},
{"data":{"name":"labB"},"mark":{"type":"text","font":"Liberation Serif","fontSize":18,"color":"#000","baseline":"middle","align":"center"},
"encoding":{"y":{"field":"y","type":"quantitative","scale":{"domain":[0,4],"nice":false,"zero":false},"axis":null},"text":{"field":"t"}}}
]}
]
}
